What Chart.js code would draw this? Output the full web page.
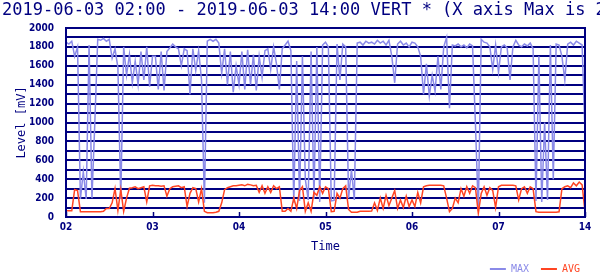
<!DOCTYPE html>
<html>
<head>
<meta charset="utf-8">
<script src="https://cdn.jsdelivr.net/npm/chart.js@4.4.1/dist/chart.umd.min.js"></script>
<style>
  html, body { margin: 0; padding: 0; background: #fff; }
  #wrap { width: 600px; height: 276px; }
</style>
</head>
<body>
<div id="wrap"><canvas id="myChart" width="600" height="276"></canvas></div>
<script>
// samples every 4 minutes from 02:00 to 14:00
const stepMinutes = 4
const xTickLabels = ['02', '03', '04', '05', '06', '07', '14']
const chartTitle = '2019-06-03 02:00 - 2019-06-03 14:00 VERT * (X axis Max is 2000)'

const maxLevel = [
    1850, 1830, 1860, 1700, 1800, 190, 480, 190, 1820, 200, 1000, 1880, 1870, 1890, 1860, 1880,
    1680, 1780, 1580, 190, 1800, 1500, 1720, 1420, 1650, 1400, 1750, 1450, 1800, 1380, 1700,
    1700, 1350, 1750, 1340, 1750, 1790, 1830, 1800, 1780, 1600, 1780, 1760, 1300, 1780, 1550,
    1760, 1450, 150, 1860, 1880, 1860, 1880, 1840, 1520, 1780, 1400, 1750, 1320, 1600, 1400,
    1750, 1350, 1770, 1400, 1720, 1340, 1700, 1480, 1760, 1780, 1560, 1800, 1620, 1350, 1780,
    1820, 1860, 1760, 150, 1650, 170, 1700, 400, 180, 1750, 190, 1800, 160, 1820, 1850,
    1800, 170, 175, 1830, 1450, 1830, 1800, 200, 500, 180, 1840, 1850, 1820, 1860, 1840,
    1850, 1830, 1870, 1840, 1860, 1820, 1870, 1700, 1420, 1830, 1860, 1820, 1840, 1800, 1850,
    1840, 1800, 1700, 1300, 1620, 1280, 1500, 1330, 1700, 1350, 1800, 1900, 1150, 1820, 1810,
    1830, 1800, 1820, 1790, 1830, 1810, 990, 60, 1880, 1850, 1840, 1800, 1560, 1820, 1530,
    1800, 1820, 1790, 1450, 1800, 1870, 1820, 1800, 1830, 1810, 1840, 1780, 170, 1700, 160,
    1000, 180, 1820, 400, 1830, 1820, 1700, 1450, 1830, 1850, 1820, 1860, 1840, 1820, 900
]

const avgLevel = [
    65, 65, 65, 290, 280, 56, 56, 56, 56, 56, 56, 56, 56, 60, 90, 90,
    150, 300, 70, 290, 60, 200, 305, 310, 320, 300, 310, 320, 160, 330, 335,
    330, 330, 325, 330, 220, 300, 320, 325, 330, 310, 320, 110, 250, 310, 300,
    160, 300, 60, 45, 45, 45, 50, 60, 150, 290, 310, 320, 330, 330, 335,
    340, 330, 345, 340, 330, 335, 260, 330, 250, 320, 260, 330, 300, 320, 60,
    60, 90, 60, 200, 90, 280, 320, 60, 150, 60, 260, 230, 320, 250, 320,
    300, 56, 60, 250, 200, 300, 330, 80, 50, 50, 50, 60, 60, 60, 60,
    62, 150, 70, 200, 90, 230, 120, 200, 280, 90, 180, 100, 220, 110, 180,
    110, 260, 150, 320, 330, 335, 335, 335, 335, 335, 330, 200, 56, 90, 200,
    150, 300, 220, 320, 250, 330, 310, 40, 250, 320, 230, 310, 280, 100, 320,
    335, 335, 335, 335, 335, 330, 180, 300, 320, 250, 320, 300, 56, 50, 50,
    50, 50, 50, 50, 50, 55, 300, 320, 330, 310, 360, 330, 370, 340, 60
]

const navy = '#000080'
const maxColor = '#8a8ae8'
const avgColor = '#ff4422'
const monoFont = "'DejaVu Sans Mono', monospace"
const smallFont = "'Liberation Sans Narrow', 'DejaVu Sans Condensed', sans-serif"

const minutes = maxLevel.map((_, i) => i * stepMinutes)

// title runs off the right edge like the original, so no maxWidth squeeze
const titlePlugin = {
    id: 'headline',
    afterDraw(chart) {
        const ctx = chart.ctx
        ctx.save()
        ctx.font = '17px ' + monoFont
        ctx.fillStyle = navy
        ctx.textBaseline = 'middle'
        ctx.fillText(chartTitle, 2, 11)
        ctx.restore()
    }
}

// frame round the plot and the small ticks inside the bottom edge
const framePlugin = {
    id: 'frame',
    afterDraw(chart) {
        const ctx = chart.ctx
        const a = chart.chartArea
        const x = chart.scales.x
        ctx.save()
        ctx.strokeStyle = navy
        ctx.lineWidth = 2
        ctx.strokeRect(a.left, a.top, a.right - a.left, a.bottom - a.top)
        ctx.lineWidth = 1.5
        x.ticks.forEach(t => {
            const px = Math.round(x.getPixelForValue(t.value)) + 0.5
            ctx.beginPath()
            ctx.moveTo(px, a.bottom)
            ctx.lineTo(px, a.bottom - 5)
            ctx.stroke()
        })
        ctx.restore()
    }
}

const chart = new Chart(document.getElementById('myChart').getContext('2d'), {
    type: 'line',
    data: {
        datasets: [{
            label: 'MAX',
            data: minutes.map((m, i) => ({ x: m, y: maxLevel[i] })),
            borderColor: maxColor,
            borderWidth: 1.5,
            pointRadius: 0,
            order: 2
        }, {
            label: 'AVG',
            data: minutes.map((m, i) => ({ x: m, y: avgLevel[i] })),
            borderColor: avgColor,
            borderWidth: 1.5,
            pointRadius: 0,
            order: 1
        }]
    },
    options: {
        responsive: false,
        animation: false,
        layout: { padding: { left: 3, right: 8, top: 28, bottom: -8 } },
        plugins: {
            title: { display: false },
            legend: {
                position: 'bottom',
                align: 'end',
                labels: {
                    boxWidth: 16,
                    boxHeight: 2,
                    padding: 12,
                    font: { family: monoFont, size: 10 },
                    generateLabels: () => [
                        { text: 'MAX', fillStyle: maxColor, strokeStyle: maxColor, lineWidth: 0, fontColor: maxColor, datasetIndex: 0, hidden: false },
                        { text: 'AVG', fillStyle: avgColor, strokeStyle: avgColor, lineWidth: 0, fontColor: avgColor, datasetIndex: 1, hidden: false }
                    ]
                }
            },
            tooltip: { enabled: false }
        },
        scales: {
            x: {
                type: 'linear',
                min: 0,
                max: 720,
                afterFit: scale => { scale.height = 35 },
                grid: { drawOnChartArea: false, drawTicks: false },
                border: { color: navy, width: 2 },
                ticks: {
                    stepSize: 120,
                    autoSkip: false,
                    maxRotation: 0,
                    padding: 4,
                    color: navy,
                    font: { family: smallFont, size: 10, weight: 'bold' },
                    callback: (v, i) => xTickLabels[i]
                },
                title: {
                    display: true,
                    text: 'Time',
                    color: navy,
                    font: { family: monoFont, size: 12 },
                    padding: { top: 0, bottom: -2 }
                }
            },
            y: {
                min: 0,
                max: 2000,
                afterFit: scale => { scale.width = 63 },
                grid: { color: navy, lineWidth: 2, drawTicks: false },
                border: { color: navy, width: 2 },
                ticks: {
                    stepSize: 100,
                    autoSkip: false,
                    maxTicksLimit: 30,
                    padding: 12,
                    color: navy,
                    font: { family: smallFont, size: 10, weight: 'bold' },
                    callback: v => v % 200 === 0 ? v : ''
                },
                title: {
                    display: true,
                    text: 'Level [mV]',
                    color: navy,
                    font: { family: monoFont, size: 12 },
                    padding: { top: 12, bottom: 0 }
                }
            },
            // empty strip on the right so the legend can reach past the plot edge
            yRight: {
                position: 'right',
                afterFit: scale => { scale.width = 7 },
                grid: { display: false },
                border: { display: false },
                ticks: { display: false }
            }
        }
    },
    plugins: [framePlugin, titlePlugin]
})
</script>
</body>
</html>
